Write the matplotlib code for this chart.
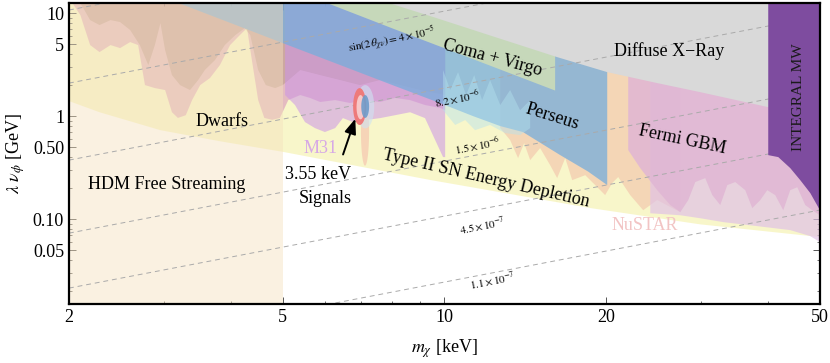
import numpy as np
import matplotlib
matplotlib.use("Agg")
import matplotlib.pyplot as plt
from matplotlib.ticker import FixedLocator, NullFormatter, LogLocator

plt.rcParams['font.family'] = ['Liberation Serif', 'DejaVu Serif']
plt.rcParams['mathtext.fontset'] = 'stix'

# axis ranges
m_lim = (2.0, 50.0)
y_lim = (0.015, 12.5)

# Type II SN energy depletion, lower edge
sn_m = [2.0, 2.28, 2.96, 3.82, 5.0, 9.4, 18.7, 29.9, 50.0]
sn_y = [1.40, 1.09, 0.73, 0.57, 0.45, 0.24, 0.128, 0.089, 0.067]

# Dwarfs (two analyses), lower edges
dwarf_a_m = [2.03, 2.10, 2.19, 2.28, 2.39, 2.49, 2.60, 2.69, 2.77, 2.89, 3.02, 3.11, 3.19, 3.30,
             3.39, 3.51, 3.66, 3.82, 3.99, 4.16, 4.29, 4.38, 4.50, 4.62, 4.78, 4.94, 5.12, 5.39,
             5.62, 5.87, 6.26, 6.67, 7.12, 7.59, 8.09, 8.63, 9.20, 9.82, 10.03]
dwarf_a_y = [12.5, 9.56, 4.89, 4.18, 4.89, 4.57, 5.23, 4.89, 2.00, 1.87, 1.79, 1.09, 0.96, 1.02,
             1.43, 2.00, 2.34, 3.13, 4.89, 6.11, 7.15, 3.50, 1.43, 0.96, 0.92, 0.96, 1.43, 1.60,
             1.50, 1.37, 1.43, 1.34, 1.43, 1.37, 1.50, 1.43, 1.28, 1.20, 1.14]
dwarf_b_m = [2.10, 2.19, 2.28, 2.39, 2.49, 2.60, 2.71, 2.81, 2.89, 2.96, 3.02, 3.11, 3.22, 3.36,
             3.48, 3.58, 3.74, 3.90, 4.08, 4.25, 4.35, 4.50, 4.65, 4.84, 5.0, 5.39, 5.87, 6.39,
             6.96, 7.59, 8.27, 9.01, 10.03]
dwarf_b_y = [12.5, 8.55, 7.65, 8.55, 8.18, 6.84, 4.89, 3.13, 4.89, 8.00, 4.37, 2.50, 2.00, 1.79,
             2.24, 2.80, 3.50, 4.89, 6.11, 7.15, 6.11, 2.80, 2.00, 1.87, 2.00, 2.80, 2.50, 2.24,
             2.00, 2.24, 2.00, 1.79, 1.60]

# M31
m31_m = [5.05, 5.27, 5.50, 5.74, 5.99, 6.26, 6.47, 6.76, 7.12, 7.59, 8.09, 8.63, 9.20, 9.61, 9.94, 10.03]
m31_y = [1.60, 1.28, 0.875, 0.765, 0.70, 0.765, 0.956, 0.875, 0.915, 0.956, 1.02, 1.09, 0.956,
         0.585, 0.40, 0.40]

# Perseus
perseus_m = [3.2, 4.0, 5.0, 6.5, 8.0, 9.8, 11.3, 12.7, 14.0, 16.4, 18.5, 20.09]
perseus_y = [12.5, 8.0, 5.11, 3.03, 2.0, 1.34, 1.0, 0.80, 0.70, 0.42, 0.29, 0.214]

# second cluster band (light cyan), lower and upper edges
cyan_lo_m = [9.94, 10.47, 10.93, 11.40, 12.16, 12.97, 13.83, 14.44]
cyan_lo_y = [1.14, 0.82, 0.915, 0.73, 0.82, 0.684, 0.654, 0.765]
cyan_hi_m = [14.44, 13.83, 13.25, 12.70, 12.16, 11.75, 11.36, 10.97, 10.60, 10.25, 9.94]
cyan_hi_y = [1.43, 1.14, 1.79, 1.28, 2.24, 1.43, 2.50, 1.60, 2.67, 1.79, 2.80]

# Coma + Virgo, lower edge
coma_m = [6.0, 8.0, 10.0, 12.0, 14.0, 16.07]
coma_y = [12.7, 7.1, 4.56, 3.17, 2.33, 1.77]

# Diffuse X-ray, lower edge
xray_m = [7.0, 8.0, 9.5, 12.0, 16.2, 20.1, 24.9, 29.9, 40.1, 50.0]
xray_y = [16.0, 12.2, 9.2, 6.2, 3.74, 2.67, 2.09, 1.71, 1.22, 0.955]

# NuSTAR (two pieces)
nustar_a_m = [12.70, 13.25, 13.71, 14.07, 14.44, 15.07, 15.73, 16.21, 16.78, 17.29, 18.28, 19.08,
              19.91, 20.52, 21.06, 22.17, 23.44, 24.89, 26.32, 27.48]
nustar_a_y = [0.765, 0.585, 0.391, 0.547, 0.374, 0.489, 0.334, 0.250, 0.391, 0.239, 0.267, 0.214,
              0.171, 0.224, 0.256, 0.171, 0.122, 0.153, 0.131, 0.117]
nustar_b_m = [24.16, 27.48, 29.93, 33.04, 38.22, 44.02, 47.97, 50.0]
nustar_b_y = [0.114, 0.109, 0.102, 0.0935, 0.0855, 0.0782, 0.0684, 0.0598]

# Fermi GBM
fermi_m = [21.98, 23.14, 24.89, 26.32, 27.48, 28.43, 29.30, 30.58, 31.52, 32.61, 33.61, 34.78,
           36.30, 37.41, 38.71, 39.89, 41.28, 42.72, 44.02, 45.37, 46.95, 48.38, 50.0]
fermi_y = [0.468, 0.313, 0.191, 0.137, 0.117, 0.153, 0.229, 0.250, 0.171, 0.137, 0.214, 0.229,
           0.191, 0.128, 0.153, 0.191, 0.171, 0.122, 0.191, 0.204, 0.137, 0.122, 0.109]

# INTEGRAL MW
integral_m = [40.06, 41.82, 44.02, 45.95, 47.97, 50.0]
integral_y = [0.418, 0.400, 0.313, 0.239, 0.179, 0.122]

# HDM free streaming bound
hdm_m = 5.0

# sin(2 theta) contours: value of lambda v at m = 2 keV (lines go as m)
mix_y_at_2 = [10.7, 2.09, 0.374, 0.0731, 0.0214, 0.0049]
mix_labels = [r'$\sin(2\,\theta_{\chi\nu}) = 4\times10^{-5}$', r'$8.2\times10^{-6}$',
              r'$1.5\times10^{-6}$', r'$4.5\times10^{-7}$', r'$1.1\times10^{-7}$']
mix_label_m = [7.99, 10.56, 11.5, 11.75, 12.27]
mix_label_y = [5.47, 1.495, 0.523, 0.0874, 0.0256]

TOP = 100.0


def fill_above(ax, m, y, color, alpha=1.0, z=1):
    xs = list(m) + [m[-1], m[0]]
    ys = list(y) + [TOP, TOP]
    ax.fill(xs, ys, color=color, alpha=alpha, lw=0, zorder=z)


def log_ellipse(m_lo, m_hi, y_lo, y_hi, n=80):
    t = np.linspace(0, 2 * np.pi, n)
    lm = np.log10([m_lo, m_hi])
    ly = np.log10([y_lo, y_hi])
    xs = 10 ** (lm.mean() + (lm[1] - lm[0]) / 2 * np.cos(t))
    ys = 10 ** (ly.mean() + (ly[1] - ly[0]) / 2 * np.sin(t))
    return xs, ys


fig = plt.figure(figsize=(8.3, 3.63), dpi=100)
ax = fig.add_axes([0.0831, 0.1625, 0.9048, 0.829])
ax.set_xscale('log')
ax.set_yscale('log')

fill_above(ax, sn_m, sn_y, '#F6F3B4', 0.7, 1)
fill_above(ax, nustar_a_m, nustar_a_y, '#F3CCB0', 0.75, 2)
fill_above(ax, nustar_b_m, nustar_b_y, '#E1C2E6', 0.7, 2)
fill_above(ax, dwarf_a_m, dwarf_a_y, '#D282B8', 0.5, 3)
fill_above(ax, dwarf_b_m, dwarf_b_y, '#A88C70', 0.4, 3)
fill_above(ax, m31_m, m31_y, '#CC94E8', 0.55, 3)
fill_above(ax, perseus_m, perseus_y, '#78AEDC', 0.76, 4)
ax.fill(cyan_lo_m + cyan_hi_m, cyan_lo_y + cyan_hi_y, color='#B4E2EE', alpha=0.45, lw=0, zorder=4)
fill_above(ax, fermi_m, fermi_y, '#E0B6D4', 0.85, 4)
fill_above(ax, coma_m, coma_y, '#C6D8BA', 1.0, 5)
fill_above(ax, xray_m, xray_y, '#D9D9D9', 1.0, 5)
ax.fill([m_lim[0], hdm_m, hdm_m, m_lim[0]], [1e-3, 1e-3, TOP, TOP],
        color='#F5E1BD', alpha=0.45, lw=0, zorder=6)

# mixing angle contours
mm = np.array(m_lim)
for c in mix_y_at_2:
    ax.plot(mm, c * mm / 2.0, color='#AAAAAA', lw=0.7, ls=(0, (5, 4)), zorder=7)

fill_above(ax, integral_m, integral_y, '#7E4C9F', 1.0, 8)

# 3.55 keV signal
xs, ys = log_ellipse(6.99, 7.24, 0.33, 1.6)
ax.fill(xs, ys, color='#F6C6B0', alpha=0.7, lw=0, zorder=9)
xs, ys = log_ellipse(6.85, 7.40, 0.76, 2.0)
ax.fill(xs, ys, color='#CFE3F2', alpha=0.6, lw=0, zorder=9)
xs, ys = log_ellipse(6.76, 7.15, 0.82, 1.87)
ax.fill(xs, ys, color='#EE7A7A', lw=0, zorder=9)
xs, ys = log_ellipse(6.86, 7.10, 0.93, 1.60)
ax.fill(xs, ys, color='#F7C8C8', lw=0, zorder=9)
xs, ys = log_ellipse(7.0, 7.24, 0.96, 1.6)
ax.fill(xs, ys, color='#6E9CCB', alpha=0.9, lw=0, zorder=9)

ax.annotate('', xy=(6.85, 1.0), xytext=(6.45, 0.40), zorder=10,
            arrowprops=dict(arrowstyle='-|>,head_length=0.9,head_width=0.35', color='black', lw=1.4))

fs = 13
ax.text(3.04, 0.219, 'HDM Free Streaming', fontsize=fs, ha='center', va='center', zorder=10)
ax.text(3.85, 0.894, 'Dwarfs', fontsize=fs, ha='center', va='center', zorder=10)
ax.text(5.89, 0.489, 'M31', fontsize=fs, color='#D6A8E6', ha='center', va='center', zorder=10)
ax.text(5.82, 0.273, '3.55 keV', fontsize=fs, ha='center', va='center', zorder=10)
ax.text(5.99, 0.160, 'Signals', fontsize=fs, ha='center', va='center', zorder=10)
ax.text(11.95, 0.250, 'Type II SN Energy Depletion', fontsize=fs, rotation=-13,
        ha='center', va='center', rotation_mode='anchor', zorder=10)
ax.text(12.27, 3.66, 'Coma + Virgo', fontsize=fs, rotation=-15,
        ha='center', va='center', rotation_mode='anchor', zorder=10)
ax.text(15.87, 0.978, 'Perseus', fontsize=fs, rotation=-17,
        ha='center', va='center', rotation_mode='anchor', zorder=10)
ax.text(26.2, 4.28, 'Diffuse X\u2212Ray', fontsize=fs, ha='center', va='center', zorder=10)
ax.text(27.7, 0.585, 'Fermi GBM', fontsize=fs, rotation=-12,
        ha='center', va='center', rotation_mode='anchor', zorder=10)
ax.text(23.64, 0.0874, 'NuSTAR', fontsize=fs, color='#F2C4C4', ha='center', va='center', zorder=10)
ax.text(45.6, 1.53, 'INTEGRAL MW', fontsize=11, rotation=90, color='#1A1A1A',
        ha='center', va='center', zorder=10)

for lab, lm, ly in zip(mix_labels, mix_label_m, mix_label_y):
    ax.text(lm, ly, lab, fontsize=8, rotation=11, ha='center', va='center',
            rotation_mode='anchor', zorder=10)

ax.set_xlim(*m_lim)
ax.set_ylim(*y_lim)

ax.xaxis.set_major_locator(FixedLocator([2, 5, 10, 20, 50]))
ax.set_xticklabels(['2', '5', '10', '20', '50'])
ax.xaxis.set_minor_locator(FixedLocator([3, 4, 6, 7, 8, 9, 30, 40]))
ax.xaxis.set_minor_formatter(NullFormatter())
ax.yaxis.set_major_locator(FixedLocator([0.05, 0.1, 0.5, 1, 5, 10]))
ax.set_yticklabels(['0.05', '0.10', '0.50', '1', '5', '10'])
ax.yaxis.set_minor_locator(LogLocator(base=10, subs=np.arange(2, 10) * 1.0))
ax.yaxis.set_minor_formatter(NullFormatter())

ax.tick_params(which='both', direction='in', top=True, right=True, labelsize=13, color='#555555')
ax.tick_params(which='major', length=5, width=0.7)
ax.tick_params(which='minor', length=2.5, width=0.6)
for s in ax.spines.values():
    s.set_linewidth(1.6)
    s.set_zorder(20)

ax.set_xlabel(r'$m_{\chi}$ [keV]', fontsize=13, labelpad=8)
ax.set_ylabel(r'$\lambda\ \nu_{\phi}$ [GeV]', fontsize=13, labelpad=4)

fig.savefig('out.png', dpi=100)
